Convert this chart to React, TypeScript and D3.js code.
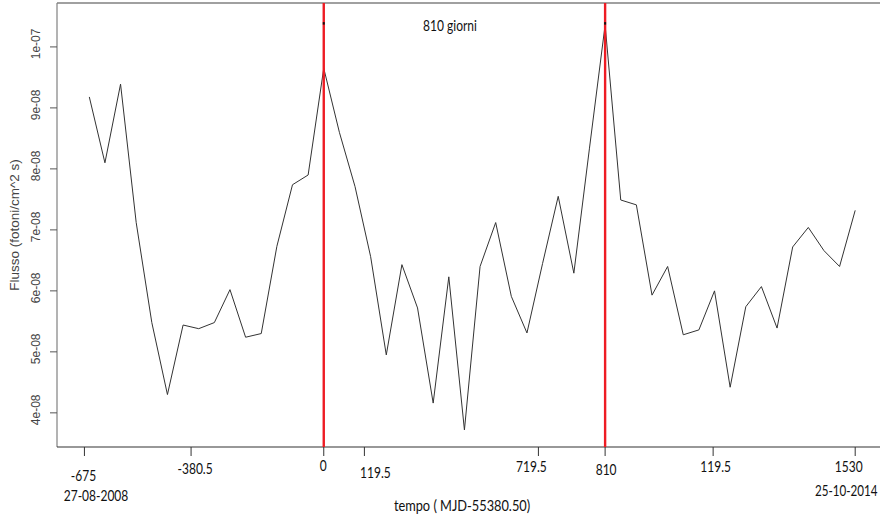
import React from "react";
import * as d3 from "d3";

// sampling days (MJD - 55380.50), one every ~45 days
const days = [
  -675, -630, -585, -540, -495, -450, -405, -360, -315, -270,
  -225, -180, -135, -90, -45, 0, 45, 90, 135, 180,
  225, 270, 315, 360, 405, 450, 495, 540, 585, 630,
  675, 720, 765, 810, 855, 900, 945, 990, 1035, 1080,
  1125, 1170, 1215, 1260, 1305, 1350, 1395, 1440, 1485, 1530,
];

// flux, in units of 1e-8 fotoni/cm^2 s
const flux = [
  9.18, 8.1, 9.39, 7.12, 5.48, 4.3, 5.44, 5.38, 5.48, 6.02,
  5.24, 5.3, 6.73, 7.74, 7.9, 9.65, 8.6, 7.71, 6.56, 4.95,
  6.43, 5.72, 4.16, 6.23, 3.72, 6.4, 7.12, 5.91, 5.31, 6.45,
  7.55, 6.29, 8.34, 10.36, 7.49, 7.41, 5.93, 6.4, 5.28, 5.36,
  6.0, 4.42, 5.74, 6.07, 5.39, 6.72, 7.04, 6.66, 6.4, 7.32,
];

const yTicks = [4e-8, 5e-8, 6e-8, 7e-8, 8e-8, 9e-8, 1e-7];
const yTickLabels = ["4e-08", "5e-08", "6e-08", "7e-08", "8e-08", "9e-08", "1e-07"];

// bottom tick positions (days) and the labels written under them
const xTickDays = [-689, -382, 0, 117, 618, 810, 1121, 1530];
const xTickLabels = ["-675", "-380.5", "0", "119.5", "719.5", "810", "119.5", "1530"];

const markerDays = [0, 810];
const markerTop = 10.39e-8;

const startDate = "27-08-2008";
const endDate = "25-10-2014";
const periodLabel = "810 giorni";

const W = 880;
const H = 517;
const left = 57;
const top = 3;
const bottom = 447;

// the pasted labels look like Calibri: Lato squeezed a bit
const Label = ({ x, y, size = 15, anchor = "middle", children }: any) => (
  <text
    transform={`translate(${x},${y}) scale(0.8,1)`}
    textAnchor={anchor}
    fontFamily="Lato, 'Open Sans', sans-serif"
    fontSize={size}
    fill="#111"
  >
    {children}
  </text>
);

export default function App() {
  const x = d3.scaleLinear().domain([-675, 1530]).range([89.3, 855.2]);
  const y = d3.scaleLinear().domain([3.44e-8, 1.072e-7]).range([bottom, top]);

  const pts = days.map((d, i) => [d, flux[i] * 1e-8] as [number, number]);
  const line = d3
    .line<[number, number]>()
    .x((d) => x(d[0]))
    .y((d) => y(d[1]));

  // small hand-placed offsets of the bottom labels
  const nudgeX = [-1, 4, -0.5, 11, -7, 1, 2.5, -6.5];
  const baseY = [481, 474, 471, 478, 472, 475, 472, 472];

  const sans = "'Liberation Sans', Arial, sans-serif";

  return (
    <svg
      width={W}
      height={H}
      style={{ position: "absolute", left: 0, top: 0, background: "#fff" }}
    >
      {/* frame */}
      <line x1={left} x2={W} y1={top} y2={top} stroke="#808080" strokeWidth={1.6} />
      <line x1={left} x2={left} y1={top} y2={bottom} stroke="#808080" strokeWidth={1.2} />
      <line x1={left} x2={W} y1={bottom} y2={bottom} stroke="#333" strokeWidth={1.2} />

      {/* y axis */}
      {yTicks.map((t, i) => (
        <g key={i}>
          <line x1={left - 7} x2={left} y1={y(t)} y2={y(t)} stroke="#555" />
          <text
            transform={`translate(40,${y(t) - 3}) rotate(-90)`}
            textAnchor="middle"
            fontFamily={sans}
            fontSize={12}
            fill="#444"
          >
            {yTickLabels[i]}
          </text>
        </g>
      ))}
      <text
        transform="translate(19,225) rotate(-90)"
        textAnchor="middle"
        fontFamily={sans}
        fontSize={13.5}
        fill="#444"
      >
        Flusso (fotoni/cm^2 s)
      </text>

      {/* x axis */}
      {xTickDays.map((d, i) => (
        <g key={i}>
          <line x1={x(d)} x2={x(d)} y1={bottom} y2={bottom + 9} stroke="#333" />
          <Label x={x(d) + nudgeX[i]} y={baseY[i]}>
            {xTickLabels[i]}
          </Label>
        </g>
      ))}
      <Label x={96} y={501}>{startDate}</Label>
      <Label x={815} y={496} size={14.5} anchor="start">{endDate}</Label>
      <Label x={462} y={511} size={16}>tempo ( MJD-55380.50)</Label>

      {/* data */}
      <path d={line(pts) || ""} fill="none" stroke="#333" strokeWidth={1} />

      {/* markers */}
      {markerDays.map((d, i) => (
        <g key={i}>
          <line x1={x(d)} x2={x(d)} y1={top} y2={bottom} stroke="#ee1c24" strokeWidth={2.4} />
          <rect x={x(d) - 1} y={y(markerTop) - 1} width={2} height={2.5} fill="#111" />
        </g>
      ))}
      <Label x={450} y={31}>{periodLabel}</Label>
    </svg>
  );
}
